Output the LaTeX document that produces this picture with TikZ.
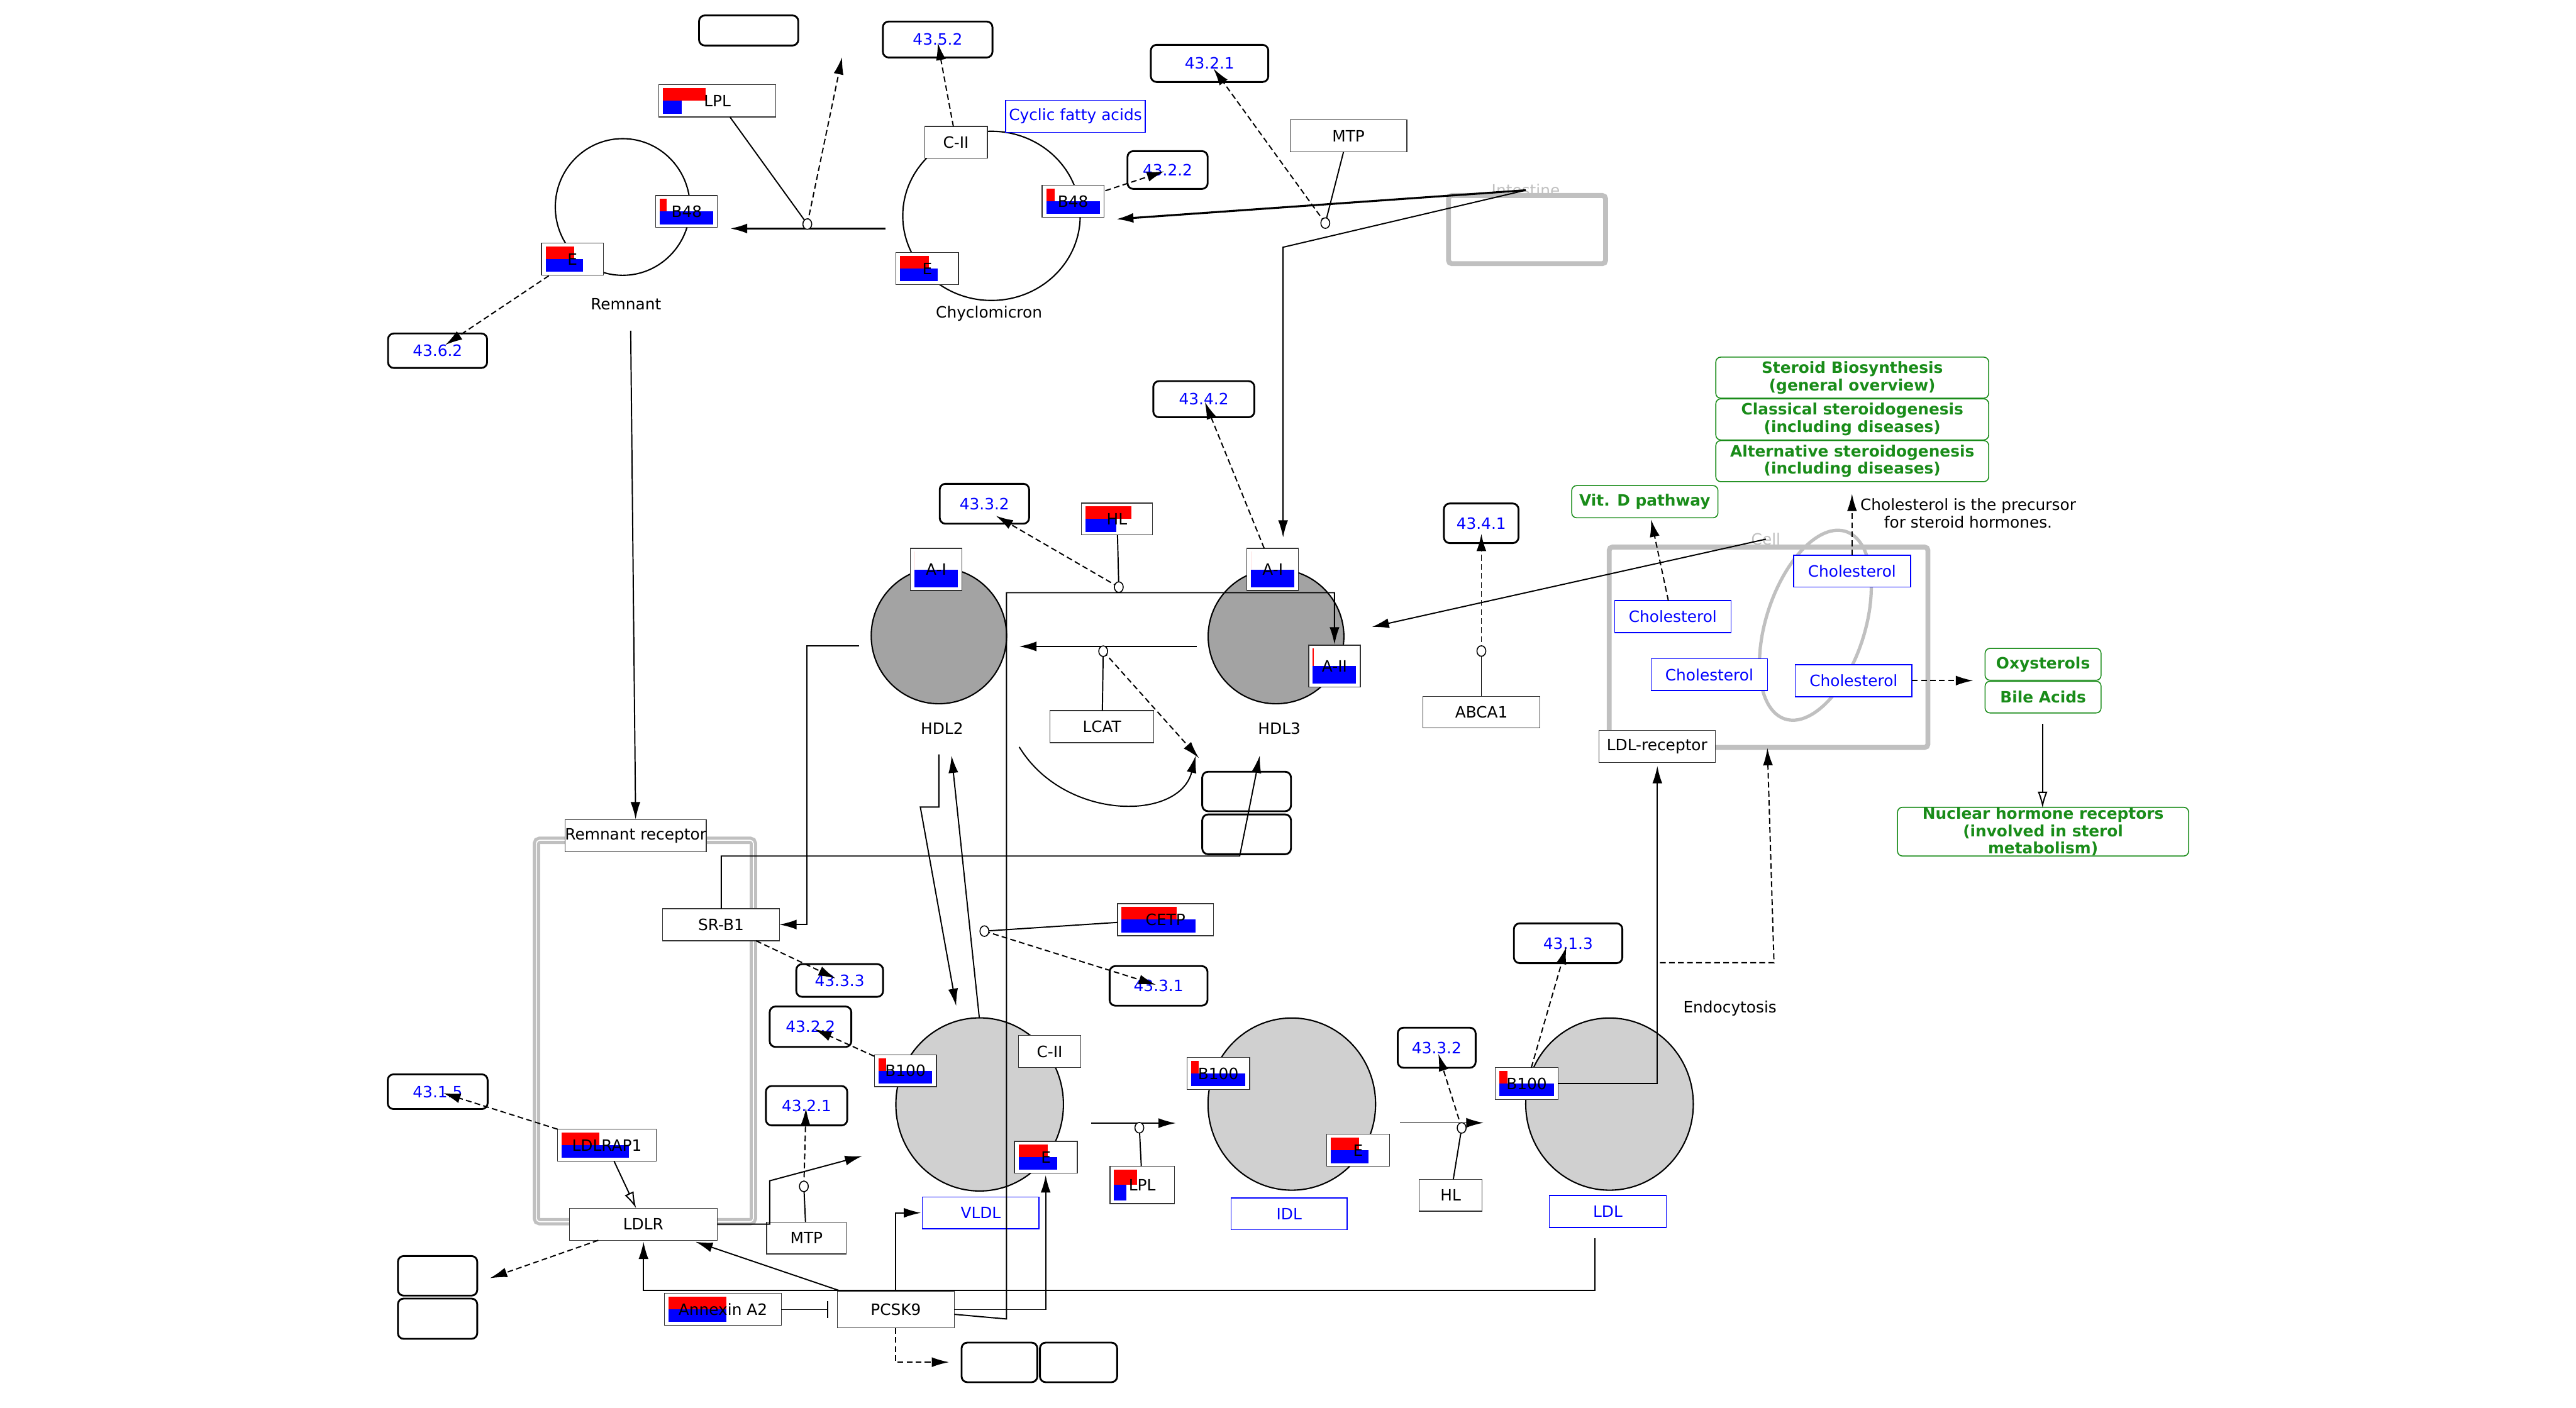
\documentclass[tikz,border=0pt]{standalone}
\usepackage{fontspec}
\setmainfont{DejaVu Sans}
\usetikzlibrary{arrows.meta,calc,shapes.geometric}
\definecolor{cgreen}{RGB}{25,140,25}
\definecolor{cgrey}{RGB}{192,192,192}
\definecolor{hdlc}{RGB}{163,163,163}
\definecolor{ldlc}{RGB}{208,208,208}
\definecolor{pblue}{RGB}{0,0,255}
\definecolor{pred}{RGB}{255,0,0}
\tikzset{
 every node/.style={font=\fontsize{9.5}{11}\selectfont, inner sep=0pt},
 gbox/.style={draw=black!80, line width=0.5pt, fill=white, rectangle},
 lbl/.style={draw=black, line width=1.1pt, rounded corners=3.5pt, text=pblue, fill=white},
 ebox/.style={draw=black, line width=1.1pt, rounded corners=3.5pt, fill=white},
 mbox/.style={draw=pblue, line width=0.6pt, text=pblue, fill=white},
 pbox/.style={draw=cgreen, line width=0.6pt, rounded corners=3pt, text=cgreen, font=\fontsize{9.5}{10.6}\selectfont\bfseries, align=center, fill=white},
 conn/.style={line width=0.75pt, -{Latex[length=10.5pt,width=6pt]}},
 dconn/.style={conn, dash pattern=on 3.5pt off 2pt},
 oconn/.style={line width=0.75pt, -{Latex[open,length=10pt,width=6pt,fill=white]}},
 plain/.style={line width=0.75pt},
 junc/.style={draw=black, fill=white, line width=0.6pt},
 comp/.style={draw=cgrey, line width=3pt, rounded corners=2pt},
 part/.style={draw=black, line width=0.8pt, ellipse, inner sep=0pt},
}
\newcommand\bx[7]{\node[#2,minimum width={#5-#3},minimum height={#6-#4}] (#1) at ({(#3+#5)/2},{(#4+#6)/2}) {#7};}
\newcommand\gene[8]{%
 \bx{#1}{gbox}{#2}{#3}{#4}{#5}{}%
 \pgfmathsetmacro\gw{#4-#2-5}\pgfmathsetmacro\gh{(#5-#3-4)/2}%
 \fill[pred] (#2+2.5,#3+2) rectangle ++({#7*\gw},\gh);%
 \fill[pblue] (#2+2.5,#3+2+\gh) rectangle ++({#8*\gw},\gh);%
 \node at (#1.center) {#6};}
\begin{document}
\begin{tikzpicture}[x=1pt,y=-1pt]
\useasboundingbox (0,0) rectangle (1568,857);
% compartments
\node[text=cgrey] (intlbl) at (928.7,115.8) {Intestine};
\draw[comp] (881.7,119) rectangle (977.3,160.5);
\node[text=cgrey] (celllbl) at (1074.9,328.2) {Cell};
\draw[comp] (979.5,333) rectangle (1173.5,455);
\draw[comp, line width=4.5pt] (326.5,511.5) rectangle (458.6,743.7);
\draw[white, line width=0.6pt, rounded corners=2pt] (326.5,511.5) rectangle (458.6,743.7);
\draw[cgrey, line width=2pt, rotate around={-18:(1105,380.6)}] (1105,380.6) ellipse [x radius=30, y radius=60];
% particles
\node[part, minimum width=82, minimum height=83.2] (remc) at (379,126) {};
\node[part, minimum width=108, minimum height=103] (chyc) at (603.5,131.4) {};
\node[part, fill=hdlc, minimum width=82.4, minimum height=82.8] (hdl2) at (571.5,387) {};
\node[part, fill=hdlc, minimum width=82.6, minimum height=82] (hdl3) at (776.7,387.4) {};
\node[part, fill=ldlc, minimum width=102, minimum height=105.4] (vldl) at (596.3,672.3) {};
\node[part, fill=ldlc, minimum width=102, minimum height=104.8] (idl) at (786.3,672.1) {};
\node[part, fill=ldlc, minimum width=102, minimum height=104.8] (ldl) at (979.7,672.1) {};
% top nodes
\bx{e1}{ebox}{425.5}{9.4}{485.9}{27.7}{}
\bx{l4352}{lbl}{537.4}{13.1}{604.1}{35}{43.5.2}
\gene{lplt}{401.1}{51.6}{472.2}{71.2}{LPL}{0.39}{0.17}
\bx{ciit}{gbox}{562.8}{77}{601}{96.3}{C-II}
\bx{cfa}{mbox}{612}{61}{697.2}{80.5}{Cyclic fatty acids}
\bx{l4322a}{lbl}{686.3}{92}{735.1}{115}{43.2.2}
\bx{l4321a}{lbl}{700.5}{27.3}{772}{49.9}{43.2.1}
\bx{mtpt}{gbox}{785.3}{73}{856.3}{92.4}{MTP}
\gene{b48r}{399.2}{119}{436.7}{138.5}{B48}{0.126}{1}
\gene{er}{329.6}{148}{367.3}{167.5}{E}{0.535}{0.70}
\node (remlbl) at (381,185) {Remnant};
\bx{l4362}{lbl}{236.2}{203}{296.5}{224}{43.6.2}
\gene{b48c}{634.3}{112.8}{672}{132.2}{B48}{0.156}{1}
\gene{ec}{545.4}{153.8}{583.4}{173.2}{E}{0.53}{0.69}
\node (chylbl) at (602,191) {Chyclomicron};
% middle nodes
\bx{l4342}{lbl}{702}{232}{763.5}{254}{43.4.2}
\bx{l4332a}{lbl}{572}{294.5}{626.4}{318.8}{43.3.2}
\gene{hl}{658.2}{306.3}{701.5}{325.7}{HL}{0.73}{0.49}
\gene{ai2}{554.2}{333.8}{585.4}{359.5}{A-I}{0}{1}
\gene{ai3}{759}{333.8}{790.4}{359.5}{A-I}{0}{1}
\gene{aii}{796.6}{392.7}{828}{418.3}{A-II}{0.02}{1}
\node (hdl2lbl) at (573.4,443.4) {HDL2};
\node (hdl3lbl) at (778.7,443.4) {HDL3};
\bx{lcat}{gbox}{639.2}{432.6}{702.3}{452.1}{LCAT}
\bx{e2}{ebox}{731.8}{469.8}{785.8}{493.8}{}
\bx{e3}{ebox}{731.8}{495.8}{785.8}{520}{}
\bx{l4341}{lbl}{878.9}{306.5}{924.3}{330.6}{43.4.1}
\bx{abca1}{gbox}{866.2}{423.9}{937.3}{443}{ABCA1}
\bx{ch1}{mbox}{982.8}{365.6}{1053.6}{385}{Cholesterol}
\bx{ch2}{mbox}{1005}{401}{1075.9}{420.4}{Cholesterol}
\bx{ch3}{mbox}{1091.7}{338}{1162.9}{357.4}{Cholesterol}
\bx{ch4}{mbox}{1092.7}{404.7}{1163.8}{424.1}{Cholesterol}
\bx{sb}{pbox}{1044.4}{217.4}{1210.5}{242.4}{Steroid Biosynthesis\\(general overview)}
\bx{cs}{pbox}{1044.4}{242.8}{1210.5}{267.8}{Classical steroidogenesis\\(including diseases)}
\bx{as}{pbox}{1044.4}{268.2}{1210.5}{293.2}{Alternative steroidogenesis\\(including diseases)}
\bx{vitd}{pbox}{956.7}{295.6}{1045.7}{315.2}{Vit. D pathway}
\node[align=center] (prec) at (1198,312.5) {Cholesterol is the precursor\\for steroid hormones.};
\bx{oxy}{pbox}{1208.3}{394.7}{1278.9}{414.1}{Oxysterols}
\bx{bile}{pbox}{1208.3}{414.7}{1278.9}{434}{Bile Acids}
\bx{nhr}{pbox}{1155}{491.9}{1332.2}{520.6}{Nuclear hormone receptors\\(involved in sterol\\metabolism)}
\bx{ldlrec}{gbox}{973.2}{444.7}{1044.1}{464.1}{LDL-receptor}
% lower nodes
\bx{rr}{gbox}{345.8}{499}{428}{518.4}{Remnant receptor}
\bx{srb1}{gbox}{403.4}{553.2}{474.4}{572.7}{SR-B1}
\bx{l4333}{lbl}{484.7}{586.9}{537.5}{606.8}{43.3.3}
\bx{l4322b}{lbl}{468.5}{612.7}{518.2}{637.3}{43.2.2}
\gene{cetp}{680.2}{550.1}{738.7}{569.6}{CETP}{0.63}{0.84}
\bx{l4331}{lbl}{675.4}{588.1}{735}{612.2}{43.3.1}
\gene{b100v}{532.2}{642.1}{570}{661.5}{B100}{0.14}{1}
\bx{ciiv}{gbox}{620}{630.4}{657.8}{649.9}{C-II}
\gene{ev}{617.5}{694.8}{655.8}{714.2}{E}{0.53}{0.70}
\bx{vldllbl}{mbox}{561.4}{728.7}{632.5}{747.9}{VLDL}
\bx{l4315}{lbl}{236}{654}{296.8}{675.1}{43.1.5}
\gene{ldlrap1}{339.4}{687.4}{399.4}{706.9}{LDLRAP1}{0.42}{0.745}
\bx{ldlr}{gbox}{346.5}{735.5}{436.6}{755}{LDLR}
\bx{mtpb}{gbox}{466.7}{744}{515.1}{763.3}{MTP}
\bx{l4321b}{lbl}{466.2}{661.1}{515.7}{685.1}{43.2.1}
\bx{e4}{ebox}{242.2}{764.6}{290.5}{788.7}{}
\bx{e5}{ebox}{242.2}{790.5}{290.5}{815}{}
\gene{anx}{404.5}{787.3}{475.6}{806.8}{Annexin A2}{0.53}{0.53}
\bx{pcsk9}{gbox}{509.7}{785.9}{580.8}{808.4}{PCSK9}
\bx{e6}{ebox}{585.3}{817.3}{631.4}{841.4}{}
\bx{e7}{ebox}{633}{817.3}{680}{841.4}{}
\gene{b100i}{722.5}{643.7}{760.6}{663.2}{B100}{0.14}{1}
\gene{ei}{807.5}{690.5}{845.9}{710}{E}{0.52}{0.69}
\bx{idllbl}{mbox}{749.3}{729.2}{820}{748.6}{IDL}
\gene{lplb}{675.6}{710}{714.9}{732.7}{LPL}{0.41}{0.22}
\bx{hlb}{gbox}{863.8}{717.9}{902.2}{737.3}{HL}
\bx{l4332b}{lbl}{850.8}{625.6}{898.2}{650}{43.3.2}
\gene{b100l}{910.2}{649.9}{948.3}{669.3}{B100}{0.15}{1}
\bx{ldllbl}{mbox}{943.1}{727.8}{1014.2}{747.3}{LDL}
\bx{l4313}{lbl}{921.5}{562.1}{987.5}{586.3}{43.1.3}
\node[anchor=west] (endo) at (1024.4,613.9) {Endocytosis};
% junctions
\coordinate (j1) at (491.4,136.4);
\coordinate (j2) at (806.7,135.8);
\coordinate (j3) at (681,357.4);
\coordinate (j4) at (671.5,396.4);
\coordinate (j5) at (901.7,396.3);
\coordinate (j6) at (599.2,566.8);
\coordinate (j7) at (489.3,722.2);
\coordinate (j8) at (693.5,686.5);
\coordinate (j9) at (889.7,686.6);
% connectors top
\draw[plain] (444.3,71.2) -- (j1);
\draw[conn, line width=1.2pt] (539,139.1) -- (444.3,139.1);
\draw[dconn] (j1) -- (512.6,34.8);
\draw[dconn] (580.3,77) -- (570.8,26.1);
\draw[dconn] (672.8,116.1) -- (708.6,104.3);
\draw[conn, line width=1.2pt] (intlbl.center) -- (679.4,133.4);
\draw[conn] (intlbl.center) -- (781,150.5) -- (781,327.2);
\draw[plain] (817.8,92.4) -- (j2);
\draw[dconn] (j2) -- (738.6,41.7);
\draw[dconn] (334,167.9) -- (271,210);
\draw[conn] (383.9,201.3) -- (386.9,498.7);
% connectors middle
\draw[dconn] (769.5,333.8) -- (733.4,244.7);
\draw[plain] (680.2,325.7) -- (j3);
\draw[dconn] (j3) -- (606.2,314);
\draw[conn] (581,800.1) -- (612.6,802.9) -- (612.6,360.8) -- (812.3,360.8) -- (812.3,392.3);
\draw[conn] (728.4,393.5) -- (620.4,393.5);
\draw[plain] (671,432.6) -- (j4);
\draw[dconn] (j4) -- (729.8,461.5);
\draw[conn] (620.4,454.7) .. controls (648,500) and (718,500) .. (727.8,460);
\draw[conn] (439,553.2) -- (439,521.1) -- (754.6,521.1) -- (766.8,460);
\draw[conn] (523.1,393.3) -- (491.2,393.3) -- (491.2,562.8) -- (474.4,562.8);
\draw[conn] (571.5,459.2) -- (571.5,491.3) -- (560.2,491.3) -- (582,612.3);
\draw[conn] (596.1,619.6) -- (579.2,460);
\draw[plain] (901.7,423.9) -- (j5);
\draw[dconn] (j5) -- (901.7,325);
\draw[conn] (celllbl.center) -- (835,381.7);
\draw[dconn] (1015.5,365.6) -- (1005,316.3);
\draw[dconn] (1127.3,338) -- (1127.3,300.6);
\draw[dconn] (1163.8,414.3) -- (1201,414.3);
\draw[oconn] (1243.3,440.6) -- (1243.3,491.9);
\draw[conn] (948.3,659.6) -- (1008.8,659.6) -- (1008.8,466.3);
\draw[dconn] (1010.4,586) -- (1079.8,586) -- (1075.8,455.4);
% connectors lower
\draw[plain] (680.2,561.5) -- (j6);
\draw[dconn] (j6) -- (703.6,599.5);
\draw[dconn] (460.2,572.7) -- (508.6,595.6);
\draw[dconn] (532.2,643) -- (495.8,626.5);
\draw[dconn] (339.4,687.4) -- (269.8,665.4);
\draw[oconn] (373.8,706.9) -- (387.2,735.5);
\draw[plain] (490.3,744) -- (j7);
\draw[dconn] (j7) -- (490.6,674.6);
\draw[conn] (436.6,745.2) -- (468.5,745.2) -- (468.5,718.8) -- (524.8,703.7);
\draw[dconn] (364.2,755) -- (298.2,778.1);
\draw[plain, -{Bar[width=10.5pt]}] (475.6,797.2) -- (504.3,797.2);
\draw[conn] (510.5,785.5) -- (423.3,755.9);
\draw[conn] (970.7,753.6) -- (970.7,785.4) -- (391.7,785.4) -- (391.7,755.9);
\draw[conn] (545.2,785.5) -- (545.2,738.3) -- (560.6,738.3);
\draw[conn] (580.8,797.2) -- (636.5,797.2) -- (636.5,715.4);
\draw[dconn] (545.2,808.4) -- (545.2,829.2) -- (577.7,829.2);
\draw[conn] (664.3,683.7) -- (715.7,683.7);
\draw[plain] (694.7,710) -- (j8);
\draw[conn] (852.2,683.5) -- (903,683.5);
\draw[plain] (884.6,717.9) -- (j9);
\draw[dconn] (j9) -- (875.5,641.5);
\draw[dconn] (932.1,649.9) -- (953.4,576.4);
% junction circles
\foreach \j in {j1,j2,j3,j4,j5,j6,j7,j8,j9}
  \draw[junc] (\j) ellipse [x radius=2.7, y radius=3.2];
\end{tikzpicture}
\end{document}
